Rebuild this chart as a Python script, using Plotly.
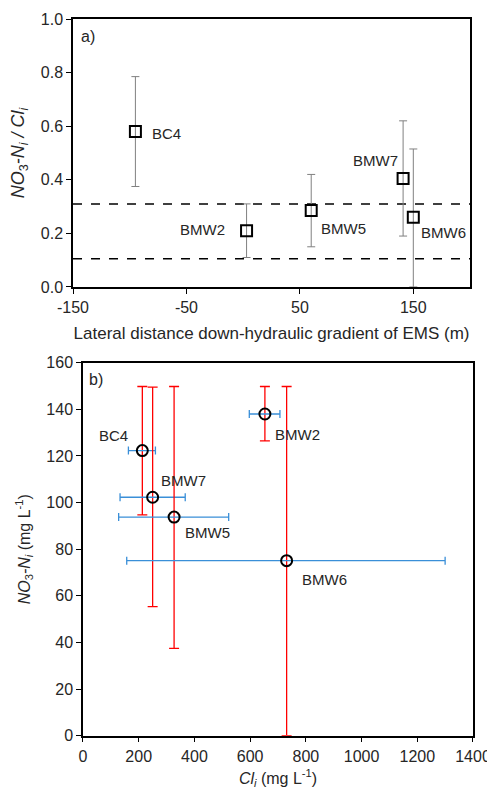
import plotly.graph_objects as go

# panel a) ratio vs lateral distance
wells_a = ["BC4", "BMW2", "BMW5", "BMW7", "BMW6"]
dist_a = [-95, 3, 60, 141, 150]
ratio_a = [0.58, 0.21, 0.285, 0.405, 0.26]
ratio_hi = [0.785, 0.31, 0.42, 0.62, 0.515]
ratio_lo = [0.375, 0.11, 0.15, 0.19, 0.0]
band = [0.105, 0.31]
dist_ticks = [-150, -50, 50, 150]
dist_ticktext = ["-150", "-50", "50", "150"]

# panel b) nitrate vs chloride
wells_b = ["BC4", "BMW7", "BMW5", "BMW2", "BMW6"]
cl_b = [213, 250, 327, 653, 731]
cl_lo = [163, 133, 128, 597, 157]
cl_hi = [260, 367, 523, 707, 1300]
no3_b = [122.3, 102.3, 93.8, 138.0, 75.1]
no3_lo = [94.7, 55.4, 37.5, 126.5, 0.0]
no3_hi = [149.8, 149.5, 149.8, 149.8, 149.8]

# label offsets in px (dx right, dy down)
off_a = {"BC4": (31, 2), "BMW2": (-44, -1), "BMW5": (32, 18), "BMW7": (-28, -18), "BMW6": (30, 15)}
off_b = {"BC4": (-29, -15), "BMW2": (33, 20), "BMW7": (31, -17), "BMW5": (33, 15), "BMW6": (38, 19)}

FONT = "Arial, Liberation Sans, sans-serif"
TXT = "#262626"

fig = go.Figure()

fig.add_trace(go.Scatter(
    x=dist_a, y=ratio_a, mode="markers", xaxis="x", yaxis="y",
    marker=dict(symbol="square-open", size=11, color="black", line=dict(width=2)),
    error_y=dict(
        type="data", symmetric=False,
        array=[h - v for h, v in zip(ratio_hi, ratio_a)],
        arrayminus=[v - l for v, l in zip(ratio_a, ratio_lo)],
        color="#808080", thickness=1, width=4,
    ),
    showlegend=False,
))

fig.add_trace(go.Scatter(
    x=cl_b, y=no3_b, mode="markers", xaxis="x2", yaxis="y2",
    marker=dict(symbol="circle-open", size=11, color="black", line=dict(width=2)),
    error_y=dict(
        type="data", symmetric=False,
        array=[h - v for h, v in zip(no3_hi, no3_b)],
        arrayminus=[v - l for v, l in zip(no3_b, no3_lo)],
        color="#FF0000", thickness=1.3, width=5,
    ),
    error_x=dict(
        type="data", symmetric=False,
        array=[h - v for h, v in zip(cl_hi, cl_b)],
        arrayminus=[v - l for v, l in zip(cl_b, cl_lo)],
        color="#3A8FD8", thickness=1.3, width=4,
    ),
    showlegend=False,
))

shapes = []
for b in band:
    shapes.append(dict(
        type="line", xref="x domain", yref="y", x0=0, x1=1, y0=b, y1=b,
        line=dict(color="black", width=1.5, dash="dash"), layer="below",
    ))

annotations = []
for w, x, y in zip(wells_a, dist_a, ratio_a):
    dx, dy = off_a[w]
    annotations.append(dict(
        x=x, y=y, xref="x", yref="y", text=w, showarrow=False,
        xshift=dx, yshift=-dy, font=dict(size=15, color=TXT, family=FONT),
    ))
for w, x, y in zip(wells_b, cl_b, no3_b):
    dx, dy = off_b[w]
    annotations.append(dict(
        x=x, y=y, xref="x2", yref="y2", text=w, showarrow=False,
        xshift=dx, yshift=-dy, font=dict(size=15, color=TXT, family=FONT),
    ))
annotations.append(dict(x=0.038, y=0.933, xref="x domain", yref="y domain", text="a)",
                        xanchor="center", yanchor="middle", showarrow=False,
                        font=dict(size=16, color=TXT, family=FONT)))
annotations.append(dict(x=0.033, y=0.956, xref="x2 domain", yref="y2 domain", text="b)",
                        xanchor="center", yanchor="middle", showarrow=False,
                        font=dict(size=16, color=TXT, family=FONT)))

axis_style = dict(
    showgrid=False, zeroline=False, showline=True, linecolor="black", linewidth=1.5,
    mirror=True, ticks="outside", ticklen=5, tickcolor="black", automargin=False,
    tickfont=dict(size=16, color=TXT, family=FONT),
)

# the page body keeps its default 8px margin, so the figure is 8px smaller
fig.update_layout(
    width=487, height=781,
    margin=dict(l=0, r=0, t=0, b=0),
    paper_bgcolor="white", plot_bgcolor="white",
    font=dict(family=FONT, color=TXT),
    xaxis=dict(
        domain=[0.1335, 0.9487], range=[-150, 200],
        tickvals=dist_ticks, ticktext=dist_ticktext,
        title=dict(text="Lateral distance down-hydraulic gradient of EMS (m)",
                   font=dict(size=17, color=TXT), standoff=12),
        anchor="y", **axis_style,
    ),
    yaxis=dict(
        domain=[0.6428, 0.9859], range=[0, 1], dtick=0.2, tickformat=".1f",
        title=dict(text="<i>NO</i><sub>3</sub><i>-N<sub>i</sub> / Cl<sub>i</sub></i>",
                   font=dict(size=18, color=TXT), standoff=13),
        anchor="x", **axis_style,
    ),
    xaxis2=dict(
        domain=[0.1540, 0.9548], range=[0, 1400], dtick=200,
        title=dict(text="<i>Cl<sub>i</sub></i> (mg L<sup>-1</sup>)",
                   font=dict(size=16, color=TXT), standoff=10),
        anchor="y2", **axis_style,
    ),
    yaxis2=dict(
        domain=[0.0682, 0.5458], range=[0, 160], dtick=20,
        title=dict(text="<i>NO</i><sub>3</sub><i>-N<sub>i</sub></i> (mg L<sup>-1</sup>)",
                   font=dict(size=16, color=TXT), standoff=12),
        anchor="x2", **axis_style,
    ),
    shapes=shapes,
    annotations=annotations,
)

fig.write_html("out.html")
